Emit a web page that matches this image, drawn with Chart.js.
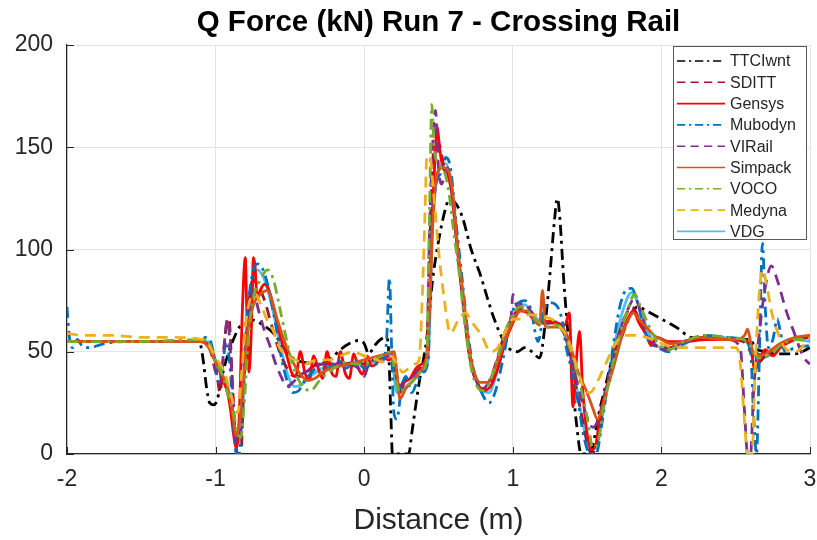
<!DOCTYPE html>
<html>
<head>
<meta charset="utf-8">
<script src="https://cdn.jsdelivr.net/npm/chart.js@4"></script>
<style>
  html, body { margin: 0; padding: 0; background: #fff; }
  #wrap { width: 817px; height: 540px; }
</style>
</head>
<body>
<div id="wrap"><canvas id="qChart" width="817" height="540"></canvas></div>
<script>
// values, [distance m, force kN]
const xTicks = [-2, -1, 0, 1, 2, 3];
const yTicks = [0, 50, 100, 150, 200];

const ttciwnt = [[-2,55],[-1.5,55],[-1.12,55],[-1.1,53],[-1.08,44],[-1.06,32],[-1.04,25],[-1.01,24],[-0.98,29],[-0.95,40],[-0.92,48],[-0.88,56],[-0.84,62],[-0.79,64],[-0.75,65.5],[-0.68,63],[-0.61,59],[-0.55,53],[-0.5,48],[-0.44,45.5],[-0.38,44.5],[-0.3,44],[-0.22,47],[-0.16,51],[-0.1,54],[-0.04,55.5],[0.0,54],[0.03,49],[0.07,53],[0.11,56],[0.15,57],[0.165,50],[0.18,18],[0.19,0],[0.3,0],[0.32,10],[0.37,35],[0.42,56],[0.46,85],[0.5,104],[0.54,118],[0.57,124],[0.61,123],[0.66,116],[0.72,100],[0.78,88],[0.83,76],[0.87,67],[0.92,58],[0.97,52],[1.03,50],[1.08,52],[1.13,50],[1.18,47],[1.22,65],[1.25,88],[1.28,114],[1.3,125],[1.32,112],[1.34,88],[1.37,60],[1.4,36],[1.43,14],[1.46,0],[1.52,0],[1.55,8],[1.58,20],[1.62,32],[1.66,44],[1.72,55],[1.78,66],[1.84,72],[1.9,70],[2.0,66],[2.1,62],[2.2,57],[2.35,56],[2.5,56],[2.6,56],[2.63,52],[2.7,50],[2.8,49],[2.9,49],[3.0,52]];

const sditt = [[-2,55],[-1.5,55],[-1.08,55],[-1.04,53],[-1.0,45],[-0.97,30],[-0.95,45],[-0.93,62],[-0.91,66],[-0.89,40],[-0.87,10],[-0.85,0],[-0.83,0],[-0.81,35],[-0.78,70],[-0.75,85],[-0.71,82],[-0.67,75],[-0.62,62],[-0.57,50],[-0.52,42],[-0.47,38],[-0.42,38],[-0.36,42],[-0.3,44],[-0.22,44],[-0.14,44],[-0.06,45],[0.0,44],[0.08,46],[0.16,48],[0.2,46],[0.23,32],[0.27,36],[0.33,38],[0.38,42],[0.42,46],[0.44,100],[0.47,150],[0.5,152],[0.54,140],[0.58,135],[0.62,105],[0.66,78],[0.7,52],[0.74,38],[0.79,32],[0.84,34],[0.89,44],[0.94,58],[1.0,67],[1.05,71],[1.1,69],[1.16,65],[1.22,64],[1.28,64],[1.34,60],[1.38,50],[1.42,35],[1.46,20],[1.5,6],[1.53,0],[1.56,4],[1.6,20],[1.65,38],[1.7,55],[1.75,66],[1.8,72],[1.85,66],[1.9,58],[1.96,53],[2.05,52],[2.15,55],[2.3,57],[2.45,56],[2.55,55],[2.6,50],[2.64,44],[2.7,48],[2.8,53],[2.9,56],[3.0,57]];

const gensys = [[-2,55],[-1.5,55],[-1.1,55],[-1.06,54],[-1.02,48],[-0.98,42],[-0.95,36],[-0.92,30],[-0.9,22],[-0.88,10],[-0.86,3],[-0.84,20],[-0.82,70],[-0.8,96],[-0.79,70],[-0.775,40],[-0.76,60],[-0.745,96],[-0.735,92],[-0.72,76],[-0.7,80],[-0.67,83],[-0.64,80],[-0.61,72],[-0.58,62],[-0.55,54],[-0.52,48],[-0.49,40],[-0.46,38],[-0.43,50],[-0.4,40],[-0.37,36],[-0.34,48],[-0.31,42],[-0.28,37],[-0.25,50],[-0.22,40],[-0.19,38],[-0.16,50],[-0.13,40],[-0.1,37],[-0.07,49],[-0.04,42],[-0.01,39],[0.02,48],[0.05,43],[0.08,44],[0.12,48],[0.16,46],[0.2,47],[0.22,38],[0.24,30],[0.27,35],[0.31,37],[0.35,42],[0.39,44],[0.42,48],[0.44,80],[0.46,120],[0.48,150],[0.49,160],[0.51,148],[0.53,140],[0.56,137],[0.6,122],[0.63,98],[0.67,72],[0.71,48],[0.75,37],[0.8,31],[0.85,33],[0.9,42],[0.95,55],[1.0,64],[1.05,70],[1.1,69],[1.15,65],[1.2,64],[1.25,65],[1.3,64],[1.35,63],[1.38,69],[1.405,23],[1.43,48],[1.45,60],[1.47,32],[1.5,10],[1.53,2],[1.56,5],[1.59,20],[1.63,32],[1.68,45],[1.74,60],[1.78,67],[1.81,70],[1.85,64],[1.9,58],[1.93,53],[1.97,57],[2.05,55],[2.15,55],[2.3,56],[2.45,56],[2.55,56],[2.6,52],[2.63,41],[2.66,46],[2.7,51],[2.75,48],[2.8,52],[2.9,56],[3.0,58]];

const mubodyn = [[-2,72],[-1.99,62],[-1.98,55],[-1.96,52],[-1.93,56],[-1.9,53],[-1.85,52],[-1.75,54],[-1.6,55],[-1.3,55],[-1.1,55],[-1.07,57],[-1.04,56],[-1.01,48],[-0.98,35],[-0.95,45],[-0.93,55],[-0.9,40],[-0.88,15],[-0.86,0],[-0.84,0],[-0.82,30],[-0.79,65],[-0.76,85],[-0.72,93],[-0.68,90],[-0.64,80],[-0.6,65],[-0.56,48],[-0.52,36],[-0.48,30],[-0.44,31],[-0.4,36],[-0.35,40],[-0.3,44],[-0.24,42],[-0.18,46],[-0.12,42],[-0.06,46],[0.0,42],[0.06,44],[0.12,45],[0.15,55],[0.17,86],[0.185,50],[0.2,20],[0.22,17],[0.25,32],[0.28,38],[0.32,30],[0.36,36],[0.4,40],[0.43,46],[0.45,100],[0.48,130],[0.52,138],[0.55,145],[0.58,140],[0.62,112],[0.66,85],[0.7,58],[0.74,40],[0.79,30],[0.84,25],[0.88,30],[0.93,45],[0.97,60],[1.0,70],[1.04,74],[1.08,75],[1.12,71],[1.17,55],[1.21,70],[1.25,74],[1.29,73],[1.33,66],[1.36,52],[1.4,40],[1.44,25],[1.48,8],[1.52,0],[1.56,0],[1.6,15],[1.64,35],[1.68,55],[1.72,72],[1.76,80],[1.8,81],[1.84,74],[1.88,62],[1.92,55],[1.98,52],[2.05,50],[2.15,54],[2.3,58],[2.45,57],[2.55,56],[2.6,50],[2.62,20],[2.64,0],[2.66,50],[2.68,103],[2.7,70],[2.72,52],[2.75,56],[2.78,66],[2.8,60],[2.83,50],[2.9,52],[3.0,53]];

const virail = [[-2,55],[-1.5,55],[-1.08,55],[-1.04,52],[-1.0,40],[-0.97,35],[-0.94,55],[-0.92,66],[-0.9,50],[-0.88,25],[-0.86,5],[-0.84,8],[-0.81,40],[-0.78,65],[-0.75,80],[-0.71,70],[-0.67,60],[-0.63,52],[-0.6,45],[-0.56,38],[-0.52,33],[-0.48,35],[-0.44,38],[-0.4,40],[-0.34,42],[-0.28,44],[-0.22,43],[-0.16,45],[-0.1,44],[-0.04,42],[0.0,38],[0.03,44],[0.08,46],[0.12,45],[0.18,49],[0.21,40],[0.24,33],[0.28,36],[0.33,38],[0.38,42],[0.42,46],[0.44,110],[0.46,150],[0.48,168],[0.5,140],[0.52,132],[0.56,140],[0.6,120],[0.64,92],[0.68,65],[0.72,45],[0.76,35],[0.8,32],[0.85,37],[0.9,48],[0.95,60],[0.99,68],[1.0,78],[1.03,72],[1.07,74],[1.12,70],[1.18,65],[1.24,64],[1.3,63],[1.35,58],[1.4,45],[1.45,30],[1.5,18],[1.54,13],[1.58,18],[1.62,30],[1.67,45],[1.72,60],[1.77,70],[1.82,76],[1.86,70],[1.9,60],[1.96,53],[2.05,51],[2.15,55],[2.3,57],[2.45,56],[2.53,52],[2.56,20],[2.58,0],[2.6,0],[2.62,30],[2.66,60],[2.7,82],[2.74,92],[2.78,85],[2.84,70],[2.89,60],[2.94,50],[2.97,46],[3.0,44]];

const simpack = [[-2,55],[-1.5,55],[-1.1,55],[-1.07,54],[-1.03,50],[-0.99,43],[-0.95,38],[-0.92,33],[-0.89,22],[-0.86,9],[-0.84,15],[-0.81,40],[-0.78,62],[-0.74,74],[-0.7,78],[-0.65,80],[-0.62,75],[-0.59,67],[-0.55,58],[-0.52,52],[-0.48,45],[-0.44,40],[-0.38,36],[-0.33,37],[-0.28,40],[-0.22,42],[-0.16,43],[-0.1,44],[-0.05,45],[0.0,46],[0.05,47],[0.1,48],[0.15,49],[0.2,50],[0.22,40],[0.24,27],[0.28,32],[0.33,36],[0.38,41],[0.42,47],[0.44,70],[0.46,110],[0.49,137],[0.53,140],[0.57,138],[0.6,125],[0.63,100],[0.67,76],[0.71,50],[0.74,40],[0.78,35],[0.83,35],[0.88,42],[0.93,52],[0.97,60],[1.0,65],[1.05,70],[1.1,70],[1.14,66],[1.18,63],[1.2,80],[1.22,62],[1.26,62],[1.31,62],[1.36,59],[1.4,50],[1.43,42],[1.47,35],[1.5,30],[1.54,22],[1.57,17],[1.6,22],[1.64,33],[1.68,43],[1.74,59],[1.78,66],[1.81,69],[1.86,65],[1.9,62],[1.95,58],[2.0,56],[2.06,54],[2.15,55],[2.26,57],[2.4,56],[2.5,56],[2.56,58],[2.58,61],[2.6,55],[2.62,49],[2.67,48],[2.72,50],[2.8,54],[2.9,57],[3.0,58]];

const voco = [[-2,55],[-1.5,55],[-1.08,56],[-1.04,54],[-1.0,45],[-0.96,40],[-0.92,30],[-0.88,20],[-0.85,10],[-0.83,8],[-0.81,22],[-0.78,55],[-0.75,75],[-0.7,85],[-0.65,90],[-0.61,85],[-0.57,72],[-0.52,55],[-0.48,43],[-0.44,36],[-0.4,32],[-0.36,31],[-0.3,36],[-0.24,40],[-0.18,43],[-0.12,45],[-0.06,44],[0.0,44],[0.06,46],[0.12,48],[0.18,50],[0.21,38],[0.24,30],[0.28,33],[0.33,36],[0.38,40],[0.42,45],[0.44,120],[0.455,171],[0.47,150],[0.5,142],[0.54,138],[0.57,128],[0.6,110],[0.64,88],[0.68,62],[0.72,42],[0.76,33],[0.8,31],[0.85,36],[0.9,48],[0.95,60],[1.0,68],[1.05,72],[1.1,70],[1.15,66],[1.2,63],[1.25,62],[1.3,63],[1.35,58],[1.4,48],[1.45,35],[1.5,18],[1.54,3],[1.57,5],[1.61,22],[1.66,40],[1.72,58],[1.77,70],[1.82,78],[1.86,72],[1.92,62],[1.98,54],[2.05,51],[2.15,55],[2.3,58],[2.45,57],[2.55,56],[2.6,53],[2.65,47],[2.72,48],[2.8,53],[2.9,56],[3.0,56]];

const medyna = [[-2,59],[-1.9,58],[-1.7,58],[-1.5,57],[-1.3,57],[-1.1,56],[-1.06,55],[-1.02,50],[-0.98,45],[-0.94,40],[-0.9,30],[-0.87,22],[-0.85,20],[-0.83,35],[-0.8,62],[-0.77,75],[-0.73,78],[-0.69,72],[-0.65,65],[-0.61,60],[-0.57,52],[-0.52,48],[-0.46,46],[-0.4,44],[-0.32,46],[-0.24,46],[-0.16,48],[-0.08,50],[0.0,48],[0.06,47],[0.12,45],[0.18,48],[0.22,44],[0.26,40],[0.3,42],[0.34,44],[0.37,46],[0.39,75],[0.41,120],[0.42,144],[0.44,146],[0.47,125],[0.5,100],[0.54,75],[0.58,59],[0.63,65],[0.68,69],[0.73,64],[0.79,58],[0.85,50],[0.9,52],[0.95,60],[1.0,66],[1.05,66],[1.1,68],[1.15,68],[1.2,67],[1.26,66],[1.32,62],[1.36,58],[1.4,50],[1.44,40],[1.48,32],[1.52,30],[1.56,34],[1.6,40],[1.65,48],[1.7,55],[1.76,58],[1.82,58],[1.9,57],[2.0,54],[2.1,52],[2.2,52],[2.3,52],[2.4,52],[2.5,52],[2.53,45],[2.56,15],[2.58,0],[2.61,0],[2.63,40],[2.66,80],[2.68,90],[2.71,82],[2.74,70],[2.78,60],[2.83,52],[2.9,50],[3.0,57]];

const vdg = [[-2,55],[-1.5,55],[-1.1,55],[-1.05,55],[-1.0,46],[-0.95,38],[-0.9,25],[-0.86,5],[-0.83,10],[-0.8,45],[-0.76,78],[-0.72,90],[-0.67,85],[-0.62,72],[-0.57,55],[-0.52,40],[-0.47,33],[-0.42,34],[-0.36,38],[-0.28,42],[-0.2,43],[-0.1,44],[0.0,44],[0.1,46],[0.18,48],[0.22,30],[0.26,32],[0.32,35],[0.38,40],[0.43,46],[0.46,110],[0.5,138],[0.55,142],[0.6,122],[0.64,92],[0.68,64],[0.72,44],[0.78,32],[0.84,30],[0.9,42],[0.96,58],[1.02,70],[1.08,73],[1.14,68],[1.2,64],[1.28,65],[1.34,60],[1.4,44],[1.46,20],[1.52,2],[1.56,3],[1.62,28],[1.68,52],[1.74,70],[1.8,79],[1.86,70],[1.92,58],[2.0,52],[2.1,52],[2.25,57],[2.4,57],[2.55,56],[2.6,52],[2.65,47],[2.72,48],[2.8,53],[2.9,56],[3.0,55]];

const seriesNames = ["TTCIwnt", "SDITT", "Gensys", "Mubodyn", "VIRail", "Simpack", "VOCO", "Medyna", "VDG"];
const seriesData = [ttciwnt, sditt, gensys, mubodyn, virail, simpack, voco, medyna, vdg];
const seriesColors = ["#000000", "#A2142F", "#FF0000", "#0072BD", "#7E2F8E", "#D95319", "#77AC30", "#EDB120", "#4DBEEE"];

const DASHDOT = [11, 5, 3, 5];
const DASHED = [11, 7];
const seriesDash = [DASHDOT, DASHED, [], DASHDOT, DASHED, [], DASHDOT, DASHED, []];
// drawing order like matlab: later series on top, VDG kept underneath
const seriesOrder = [8, 7, 6, 5, 4, 3, 2, 1, 9];

const FONT = "'Liberation Sans', Arial, Helvetica, sans-serif";
const INK = "#262626";

const datasets = seriesNames.map((name, i) => ({
  label: name,
  data: seriesData[i].map(([x, y]) => ({ x, y })),
  borderColor: seriesColors[i],
  backgroundColor: seriesColors[i],
  borderDash: seriesDash[i],
  borderWidth: 2.8,
  pointRadius: 0,
  cubicInterpolationMode: "monotone",
  order: seriesOrder[i],
}));

// matlab style inward ticks + legend box inside the axes
const matlabBits = {
  id: "matlabBits",
  afterDraw(chart) {
    const { ctx, chartArea: a, scales } = chart;
    ctx.save();
    ctx.strokeStyle = INK;
    ctx.lineWidth = 1;
    ctx.setLineDash([]);
    xTicks.forEach((t) => {
      const px = Math.round(scales.x.getPixelForValue(t)) + 0.5;
      ctx.beginPath();
      ctx.moveTo(px, a.bottom);
      ctx.lineTo(px, a.bottom - 7);
      ctx.stroke();
    });
    yTicks.forEach((t) => {
      const py = Math.round(scales.y.getPixelForValue(t)) + 0.5;
      ctx.beginPath();
      ctx.moveTo(a.left, py);
      ctx.lineTo(a.left + 7, py);
      ctx.stroke();
    });

    // legend
    const bx = 673, by = 46, bw = 133, bh = 193;
    ctx.fillStyle = "#fff";
    ctx.fillRect(bx, by, bw, bh);
    ctx.strokeStyle = "#5a5a5a";
    ctx.lineWidth = 1;
    ctx.strokeRect(bx + 0.5, by + 0.5, bw, bh);
    ctx.font = "16px " + FONT;
    ctx.textBaseline = "middle";
    ctx.textAlign = "left";
    chart.data.datasets.forEach((ds, i) => {
      const yy = by + 15 + i * 21.3;
      ctx.strokeStyle = ds.borderColor;
      ctx.lineWidth = 1.6;
      ctx.setLineDash(ds.borderDash.length ? ds.borderDash.map((d) => d * 0.75) : []);
      ctx.beginPath();
      ctx.moveTo(bx + 4, yy);
      ctx.lineTo(bx + 52, yy);
      ctx.stroke();
      ctx.setLineDash([]);
      ctx.fillStyle = INK;
      ctx.fillText(ds.label, bx + 57, yy + 1);
    });
    ctx.restore();
  },
};

new Chart(document.getElementById("qChart"), {
  type: "line",
  data: { datasets },
  options: {
    responsive: false,
    animation: false,
    layout: { padding: { left: 0, right: 7, top: 0, bottom: 0 } },
    plugins: {
      legend: { display: false },
      tooltip: { enabled: false },
      title: {
        display: true,
        fullSize: false,
        text: "Q Force (kN) Run 7 - Crossing Rail",
        color: "#000",
        font: { family: FONT, size: 29.5, weight: "bold" },
        padding: { top: 5, bottom: 4.6 },
      },
    },
    scales: {
      x: {
        type: "linear",
        min: -2,
        max: 3,
        afterBuildTicks: (s) => { s.ticks = xTicks.map((v) => ({ value: v })); },
        afterFit: (s) => { s.height = 86; },
        // label gap comes from an invisible tick so the right edge is not padded
        ticks: { color: INK, font: { family: FONT, size: 23 }, padding: 0 },
        grid: { color: "#e3e3e3", drawTicks: true, tickLength: 12, tickColor: "rgba(0,0,0,0)" },
        border: { color: INK, width: 1.2 },
        title: {
          display: true,
          text: "Distance (m)",
          color: INK,
          font: { family: FONT, size: 30 },
          padding: { top: 2, bottom: 1 },
        },
      },
      y: {
        min: 0,
        max: 200,
        afterBuildTicks: (s) => { s.ticks = yTicks.map((v) => ({ value: v })); },
        afterFit: (s) => { s.width = 67; },
        ticks: { color: INK, font: { family: FONT, size: 23 }, padding: 14 },
        grid: { color: "#e3e3e3", drawTicks: false },
        border: { color: INK, width: 1.2 },
      },
    },
  },
  plugins: [matlabBits],
});
</script>
</body>
</html>
